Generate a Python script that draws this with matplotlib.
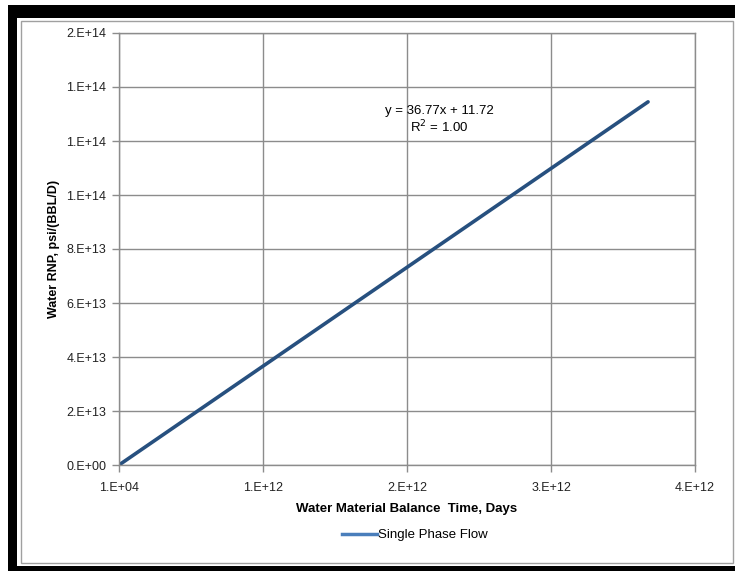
import matplotlib
matplotlib.use("Agg")
import matplotlib.pyplot as plt
from matplotlib.lines import Line2D
from matplotlib.patches import Rectangle

plt.rcParams["font.family"] = ["Liberation Sans", "DejaVu Sans"]

# data
time_days = [1.0e4, 3.674e12]
water_rnp = [0.0, 1.345e14]
x_ticks = [0, 1e12, 2e12, 3e12, 4e12]
x_labels = ["1.E+04", "1.E+12", "2.E+12", "3.E+12", "4.E+12"]
y_ticks = [0, 2e13, 4e13, 6e13, 8e13, 1e14, 1.2e14, 1.4e14, 1.6e14]
y_labels = ["0.E+00", "2.E+13", "4.E+13", "6.E+13", "8.E+13",
            "1.E+14", "1.E+14", "1.E+14", "2.E+14"]

W, H = 735, 571
fig = plt.figure(figsize=(W / 100, H / 100), dpi=100)
fig.patch.set_facecolor("white")

# black frame + thin gray chart border (Excel screenshot look)
fig.patches.append(Rectangle((8 / W, 0), 1 - 8 / W, 1 - 5 / H, transform=fig.transFigure,
                             facecolor="black", edgecolor="none", zorder=0))
fig.patches.append(Rectangle((17 / W, 5 / H), 1 - 17 / W, (553 - 5) / H,
                             transform=fig.transFigure, facecolor="white",
                             edgecolor="none", zorder=0.5))
fig.patches.append(Rectangle((21 / W, 8 / H), (733 - 21) / W, (553 - 11) / H,
                             transform=fig.transFigure, facecolor="none",
                             edgecolor="#a0a0a0", lw=1, zorder=0.6))

ax = fig.add_axes([119 / W, 1 - 465 / H, (695 - 119) / W, (465 - 33) / H])
ax.set_zorder(2)
ax.plot(time_days, water_rnp, color="#27507f", lw=2.6, solid_capstyle="round")

ax.set_xlim(0, 4e12)
ax.set_ylim(0, 1.6e14)
ax.set_xticks(x_ticks)
ax.set_xticklabels(x_labels)
ax.set_yticks(y_ticks)
ax.set_yticklabels(y_labels)
ax.tick_params(labelsize=9, length=5, color="#8c8c8c", width=1, pad=4, labelcolor="#222222")
ax.tick_params(axis="x", pad=7)
ax.grid(True, color="#8c8c8c", lw=1)
ax.set_axisbelow(True)
for s in ax.spines.values():
    s.set_color("#8c8c8c")
    s.set_linewidth(1)

ax.set_xlabel("Water Material Balance  Time, Days", fontsize=9.5, fontweight="bold", labelpad=7)
ax.set_ylabel("Water RNP, psi/(BBL/D)", fontsize=9, fontweight="bold", labelpad=5)

ax.text(0.556, 0.799, "y = 36.77x + 11.72\nR$^2$ = 1.00", transform=ax.transAxes,
        fontsize=9.5, ha="center", va="center", linespacing=1.15)

handle = Line2D([], [], color="#4a7ebb", lw=2.5)
leg = fig.legend([handle], ["Single Phase Flow"], loc="center", bbox_to_anchor=(415 / W, 1 - 535 / H),
                 frameon=False, fontsize=9.5, handlelength=2.6, handletextpad=0.1)
leg.set_zorder(3)

fig.savefig("out.png", dpi=100, facecolor="white")
